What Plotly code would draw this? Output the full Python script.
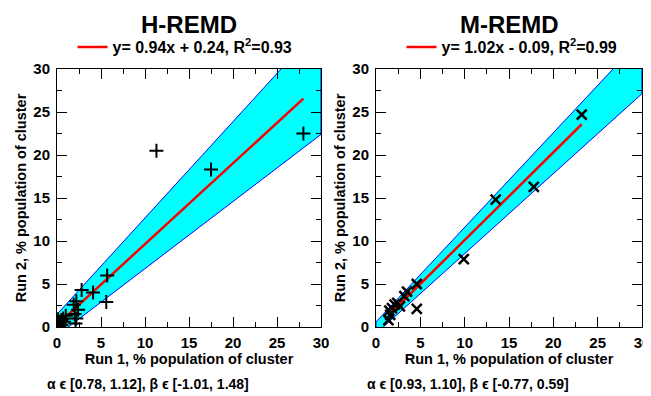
import plotly.graph_objects as go

# The page body has an 8px default margin, so the figure is made 8px smaller
# and all layout positions are expressed in window pixels minus that offset.
WIN_W, WIN_H = 651, 396
OFF = 8
W, H = WIN_W - OFF, WIN_H - OFF

# ---------------- data ----------------
run1_h = [28.0, 17.5, 11.3, 5.7, 5.6, 4.1, 2.8, 1.9, 2.2, 2.4, 2.0, 2.2, 2.1, 1.0, 0.7, 0.5, 0.3, 0.5, 0.2, 0.1, 0.8, 0.4]
run2_h = [22.5, 18.3, 20.5, 6.0, 2.9, 4.0, 4.3, 2.6, 3.0, 2.0, 1.5, 1.0, 0.4, 1.3, 1.0, 0.8, 0.5, 0.2, 0.1, 0.9, 0.6, 0.3]

run1_m = [23.2, 17.8, 13.5, 9.9, 4.6, 4.6, 3.5, 3.2, 2.4, 2.7, 1.8, 2.1, 1.6, 1.4, 1.5]
run2_m = [24.7, 16.3, 14.8, 7.9, 5.0, 2.1, 4.1, 3.6, 2.8, 2.4, 2.2, 2.6, 1.4, 0.8, 1.9]

fit_h = {"slope": 0.94, "intercept": 0.24, "r2": 0.93}
fit_m = {"slope": 1.02, "intercept": -0.09, "r2": 0.99}

alpha_h = [0.78, 1.12]
beta_h = [-1.01, 1.48]
alpha_m = [0.93, 1.10]
beta_m = [-0.77, 0.59]

panel_titles = ["H-REMD", "M-REMD"]
axis_range = [0, 30]
tick_vals = [0, 5, 10, 15, 20, 25, 30]
x_title = "Run 1, % population of cluster"
y_title = "Run 2, % population of cluster"

FONT = "Liberation Sans, Arial, Helvetica, sans-serif"

fig = go.Figure()


def band_trace(alpha, beta, xa, ya):
    x0, x1 = axis_range
    xs = [x0, x1, x1, x0, x0]
    ys = [alpha[1] * x0 + beta[1], alpha[1] * x1 + beta[1],
          alpha[0] * x1 + beta[0], alpha[0] * x0 + beta[0],
          alpha[1] * x0 + beta[1]]
    return go.Scatter(x=xs, y=ys, mode="lines", fill="toself",
                      fillcolor="#00FFFF", line=dict(color="#0000FF", width=1),
                      showlegend=False, hoverinfo="skip", xaxis=xa, yaxis=ya)


def fit_trace(fit, xdata, xa, ya, legend):
    lo, hi = min(xdata), max(xdata)
    sign = "+" if fit["intercept"] >= 0 else "-"
    name = "y= %.2fx %s %.2f, R<sup>2</sup>=%.2f" % (fit["slope"], sign, abs(fit["intercept"]), fit["r2"])
    return go.Scatter(x=[lo, hi], y=[fit["slope"] * lo + fit["intercept"], fit["slope"] * hi + fit["intercept"]],
                      mode="lines", line=dict(color="#FF0000", width=2.5),
                      name=name, showlegend=True, legend=legend, xaxis=xa, yaxis=ya)


fig.add_trace(band_trace(alpha_h, beta_h, "x", "y"))
fig.add_trace(fit_trace(fit_h, run1_h, "x", "y", "legend"))
fig.add_trace(go.Scatter(x=run1_h, y=run2_h, mode="markers",
                         marker=dict(symbol="cross-thin", size=10, color="black",
                                     line=dict(color="black", width=2)),
                         showlegend=False, xaxis="x", yaxis="y"))

fig.add_trace(band_trace(alpha_m, beta_m, "x2", "y2"))
fig.add_trace(fit_trace(fit_m, run1_m, "x2", "y2", "legend2"))
fig.add_trace(go.Scatter(x=run1_m, y=run2_m, mode="markers",
                         marker=dict(symbol="x-thin", size=10, color="black",
                                     line=dict(color="black", width=2.5)),
                         showlegend=False, xaxis="x2", yaxis="y2"))


def px_x(p):
    return (p - OFF) / W


def px_y(p):
    return 1 - (p - OFF) / H


tickfont = dict(family=FONT, size=15, color="black", weight="bold")
titlefont = dict(family=FONT, size=14.5, color="black", weight="bold")

common = dict(range=axis_range, tickvals=tick_vals, ticks="inside", ticklen=10,
              tickwidth=1, tickcolor="black", showline=True, linecolor="black",
              linewidth=1, mirror="allticks", showgrid=False, zeroline=False,
              tickfont=tickfont, automargin=False, fixedrange=True,
              minor=dict(dtick=2.5, ticks="inside", ticklen=5, tickwidth=1, tickcolor="black",
                         showgrid=False))

fig.update_layout(
    width=W, height=H,
    margin=dict(l=0, r=0, t=0, b=0),
    paper_bgcolor="white", plot_bgcolor="white",
    font=dict(family=FONT, color="black"),
    xaxis=dict(domain=[px_x(57), px_x(321)], anchor="y",
               title=dict(text=x_title, font=titlefont, standoff=1), ticklabelstandoff=2, **common),
    yaxis=dict(domain=[px_y(327), px_y(69)], anchor="x",
               title=dict(text=y_title, font=titlefont, standoff=3), ticklabelstandoff=3, **common),
    xaxis2=dict(domain=[px_x(376), px_x(642)], anchor="y2",
                title=dict(text=x_title, font=titlefont, standoff=1), ticklabelstandoff=2, **common),
    yaxis2=dict(domain=[px_y(327), px_y(69)], anchor="x2",
                title=dict(text=y_title, font=titlefont, standoff=3), ticklabelstandoff=3, **common),
    legend=dict(x=px_x(185), y=px_y(47), xanchor="center", yanchor="middle",
                bgcolor="rgba(0,0,0,0)", font=dict(family=FONT, size=16, color="black", weight="bold"),
                itemwidth=30),
    legend2=dict(x=px_x(512), y=px_y(47), xanchor="center", yanchor="middle",
                 bgcolor="rgba(0,0,0,0)", font=dict(family=FONT, size=16, color="black", weight="bold"),
                 itemwidth=30),
)

annotations = []
for cx, t in zip([189, 509], panel_titles):
    annotations.append(dict(text=t, x=px_x(cx), y=px_y(25), xref="paper", yref="paper",
                            showarrow=False, xanchor="center", yanchor="middle",
                            font=dict(family=FONT, size=24, color="black", weight="bold")))

for cx, a, b in [(148, alpha_h, beta_h), (468, alpha_m, beta_m)]:
    txt = "α ϵ [%.2f, %.2f], β ϵ [%.2f, %.2f]" % (a[0], a[1], b[0], b[1])
    annotations.append(dict(text=txt, x=px_x(cx), y=px_y(384), xref="paper", yref="paper",
                            showarrow=False, xanchor="center", yanchor="middle",
                            font=dict(family=FONT, size=14, color="black", weight="bold")))
fig.update_layout(annotations=annotations)

fig.write_html("out.html")
